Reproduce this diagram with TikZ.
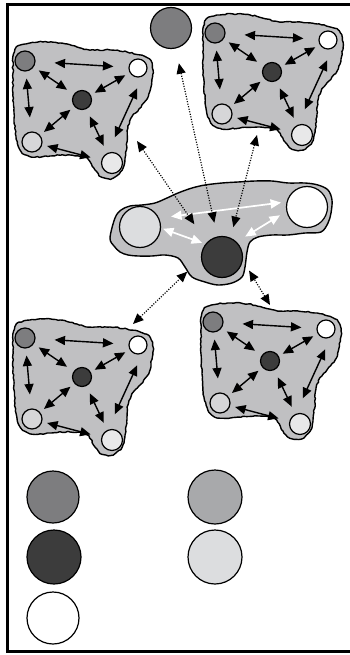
\documentclass[tikz,border=0pt]{standalone}
\usetikzlibrary{arrows.meta,decorations.pathmorphing,calc}
\definecolor{blobfill}{HTML}{C0C0C2}
\definecolor{midgray}{HTML}{7D7D7F}
\definecolor{darkball}{HTML}{3C3C3C}
\definecolor{lightone}{HTML}{D6D6D8}
\definecolor{lighttwo}{HTML}{E8E8E9}
\definecolor{legendgray}{HTML}{A8A9AB}
\definecolor{legendlight}{HTML}{DCDDDF}
\pgfmathsetseed{7}
\tikzset{
  blobplain/.style={fill=blobfill, draw=black, line width=1.4pt, line join=round},
  blob/.style={blobplain,
    decorate, decoration={random steps, segment length=2.5pt, amplitude=0.6pt}},
  ball/.style={circle, draw=black, line width=1.2pt, inner sep=0pt, minimum size=#1},
  tipb/.tip={Triangle[length=10.5pt,width=9pt]},
  biarrow/.style={tipb-tipb, line width=1.4pt},
  dotarrow/.style={tipb-tipb, line width=1.2pt, dash pattern=on 1.1pt off 1.5pt},
  whitearrow/.style={tipb-tipb, draw=white, fill=white, line width=1.7pt},
}
\newcommand\mycluster[3]{%
  \begin{scope}[shift={(#2,#3)}]
    \draw[blob] plot[smooth cycle, tension=0.55] coordinates {
      (17,47) (30,43) (43,42) (60,43) (77,47) (90,50) (110,50) (127,52) (140,55)
      (149,59) (153,70) (151,87) (147,99) (139,109) (132,117) (128,128) (127,142)
      (125,158) (122,170) (113,178) (102,177) (95,170) (87,158) (70,155) (50,156)
      (32,157) (21,151) (16,136) (14,113) (13,93) (13,73) (13,57)};
    \node[ball=20pt, fill=midgray] (#1a) at (25,61) {};
    \node[ball=18pt, fill=white] (#1w) at (138,68) {};
    \node[ball=19pt, fill=darkball] (#1c) at (82,100) {};
    \node[ball=20pt, fill=lightone] (#1l) at (32,142) {};
    \node[ball=21pt, fill=lighttwo] (#1b) at (112,163) {};
    \draw[biarrow, shorten <=19pt, shorten >=15pt] (#1a) -- (#1w);
    \draw[biarrow, shorten <=6pt, shorten >=8pt] (#1a) -- (#1c);
    \draw[biarrow, shorten <=7pt, shorten >=14pt] (#1a) -- (#1l);
    \draw[biarrow, shorten <=4.5pt, shorten >=5pt] (#1c) -- (#1w);
    \draw[biarrow, shorten <=5pt, shorten >=5pt] (#1l) -- (#1c);
    \draw[biarrow, shorten <=8pt, shorten >=8pt] (#1c) -- (#1b);
    \draw[biarrow, shorten <=5pt, shorten >=11pt] (#1l) -- (#1b);
    \draw[biarrow, shorten <=13pt, shorten >=17pt] (#1w.-61) -- (#1b.113);
  \end{scope}}
\begin{document}
\begin{tikzpicture}[x=1pt,y=-1pt]
  \useasboundingbox (0,0) rectangle (349,655);
  \fill[white] (0,0) rectangle (349,655);
  \draw[line width=3pt, line join=miter] (356,4.3) -- (7.5,4.3) -- (7.5,651.5) -- (356,651.5);

  % clusters
  \mycluster{tl}{0}{0}
  \mycluster{tr}{190}{-28}
  \mycluster{bl}{0}{277}
  \mycluster{br}{188}{261}

  % top single ball
  \node[ball=41pt, fill=midgray] (top) at (171,28) {};

  % central blob
  \draw[blobplain] plot[smooth cycle, tension=0.55] coordinates {
    (110,238) (115,218) (121,210) (130,206) (142,205) (155,203) (167,198) (178,193)
    (192,188) (205,185) (222,183) (238,182) (255,181) (272,181) (288,183) (305,183)
    (318,185) (328,190) (332,200) (331,213) (328,223) (321,232) (305,233) (288,235)
    (272,235) (258,237) (250,242) (247,252) (245,267) (242,277) (232,283) (218,285)
    (205,282) (192,277) (185,267) (178,258) (165,255) (152,256) (138,256) (128,255)
    (120,252) (114,246)};
  \node[ball=41pt, fill=legendlight] (light) at (140,227) {};
  \node[ball=41pt, fill=white] (white) at (307,207) {};
  \node[ball=41pt, fill=darkball] (dark) at (222,257) {};

  % white arrows
  \draw[whitearrow, shorten <=12pt, shorten >=5.5pt] (light.25) -- (white.166);
  \draw[whitearrow, shorten <=2pt, shorten >=3.5pt] (light.-3) -- (dark.142);
  \draw[whitearrow, shorten <=10pt, shorten >=7.5pt] (dark.46) -- (white.192);

  % dotted connectors
  \coordinate (ptl) at (137,141);
  \coordinate (ptr) at (257,135);
  \coordinate (pbl) at (133,324);
  \coordinate (pbr) at (270,305);
  \draw[dotarrow, shorten >=22pt] (ptl) -- (dark.136);
  \draw[dotarrow, shorten <=15pt, shorten >=14pt] (top) -- (dark);
  \draw[dotarrow, shorten >=11pt] (ptr) -- (dark.66);
  \draw[dotarrow, shorten >=19pt] (pbl) -- (dark.184);
  \draw[dotarrow, shorten >=12pt] (pbr) -- (dark.-9);

  % legend
  \node[ball=52pt, fill=midgray] (lg1) at (53,497) {};
  \node[ball=54pt, fill=darkball] (lg2) at (54,557) {};
  \node[ball=52pt, fill=white] (lg3) at (53,618) {};
  \node[ball=54pt, fill=legendgray] (lg4) at (215,497) {};
  \node[ball=54pt, fill=legendlight] (lg5) at (215,557) {};
\end{tikzpicture}
\end{document}
